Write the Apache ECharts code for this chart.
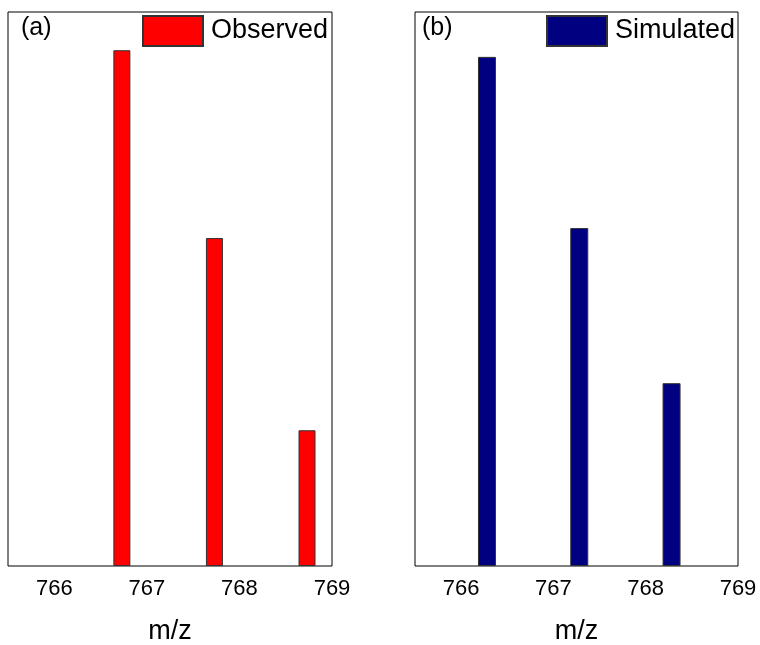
<!DOCTYPE html>
<html>
<head>
<meta charset="utf-8">
<script src="https://cdn.jsdelivr.net/npm/echarts@6/dist/echarts.min.js"></script>
<style>
  html, body { margin: 0; padding: 0; background: #fff; }
  #chart { width: 760px; height: 645px; }
</style>
</head>
<body>
<div id="chart"></div>
<script>
// Isotope pattern: peak positions (m/z) and relative intensities
const mzTicks = [766, 767, 768, 769];
const observedMz = [766.73, 767.73, 768.73];
const observedIntensity = [93.1, 59.2, 24.5];
const simulatedMz = [766.28, 767.28, 768.28];
const simulatedIntensity = [91.9, 61.0, 33.0];

const FONT = '"Liberation Sans", Arial, sans-serif';

const pairs = (xs, ys) => xs.map((x, i) => [x, ys[i]]);

function xAxisFor(gridIndex) {
  return {
    type: 'value',
    gridIndex: gridIndex,
    min: 765.5,
    max: 769,
    name: 'm/z',
    nameLocation: 'middle',
    nameGap: 52,
    nameTextStyle: { fontFamily: FONT, fontSize: 27, color: '#000' },
    axisLine: { show: false },
    axisTick: { show: false },
    splitLine: { show: false },
    axisLabel: {
      customValues: mzTicks,
      fontFamily: FONT,
      fontSize: 22,
      color: '#000',
      margin: 12
    }
  };
}

function yAxisFor(gridIndex) {
  return {
    type: 'value',
    gridIndex: gridIndex,
    min: 0,
    max: 100,
    show: false,
    splitLine: { show: false }
  };
}

const chart = echarts.init(document.getElementById('chart'), null, { renderer: 'canvas' });

chart.setOption({
  animation: false,
  backgroundColor: '#fff',
  title: [
    { text: '(a)', left: 21, top: 16, padding: 0,
      textStyle: { fontFamily: FONT, fontSize: 25, fontWeight: 'normal', color: '#000' } },
    { text: '(b)', left: 422, top: 16, padding: 0,
      textStyle: { fontFamily: FONT, fontSize: 25, fontWeight: 'normal', color: '#000' } }
  ],
  legend: [
    { data: ['Observed'], left: 142, top: 15, padding: 0,
      itemWidth: 60, itemHeight: 30, icon: 'rect',
      textStyle: { fontFamily: FONT, fontSize: 27, color: '#000', padding: [0, 0, 0, 3] } },
    { data: ['Simulated'], left: 546, top: 15, padding: 0,
      itemWidth: 60, itemHeight: 30, icon: 'rect',
      textStyle: { fontFamily: FONT, fontSize: 27, color: '#000', padding: [0, 0, 0, 3] } }
  ],
  grid: [
    { left: 8, right: 428, top: 12, bottom: 79, show: true, outerBoundsMode: 'none',
      borderColor: '#000', borderWidth: 1, backgroundColor: 'transparent' },
    { left: 415, right: 22, top: 12, bottom: 79, show: true, outerBoundsMode: 'none',
      borderColor: '#000', borderWidth: 1, backgroundColor: 'transparent' }
  ],
  xAxis: [xAxisFor(0), xAxisFor(1)],
  yAxis: [yAxisFor(0), yAxisFor(1)],
  series: [
    {
      name: 'Observed',
      type: 'bar',
      xAxisIndex: 0,
      yAxisIndex: 0,
      barWidth: 17,
      data: pairs(observedMz, observedIntensity),
      itemStyle: { color: '#ff0000', borderColor: '#333', borderWidth: 1 }
    },
    {
      name: 'Simulated',
      type: 'bar',
      xAxisIndex: 1,
      yAxisIndex: 1,
      barWidth: 18,
      data: pairs(simulatedMz, simulatedIntensity),
      itemStyle: { color: '#000080', borderColor: '#333', borderWidth: 1 }
    }
  ]
});
</script>
</body>
</html>
